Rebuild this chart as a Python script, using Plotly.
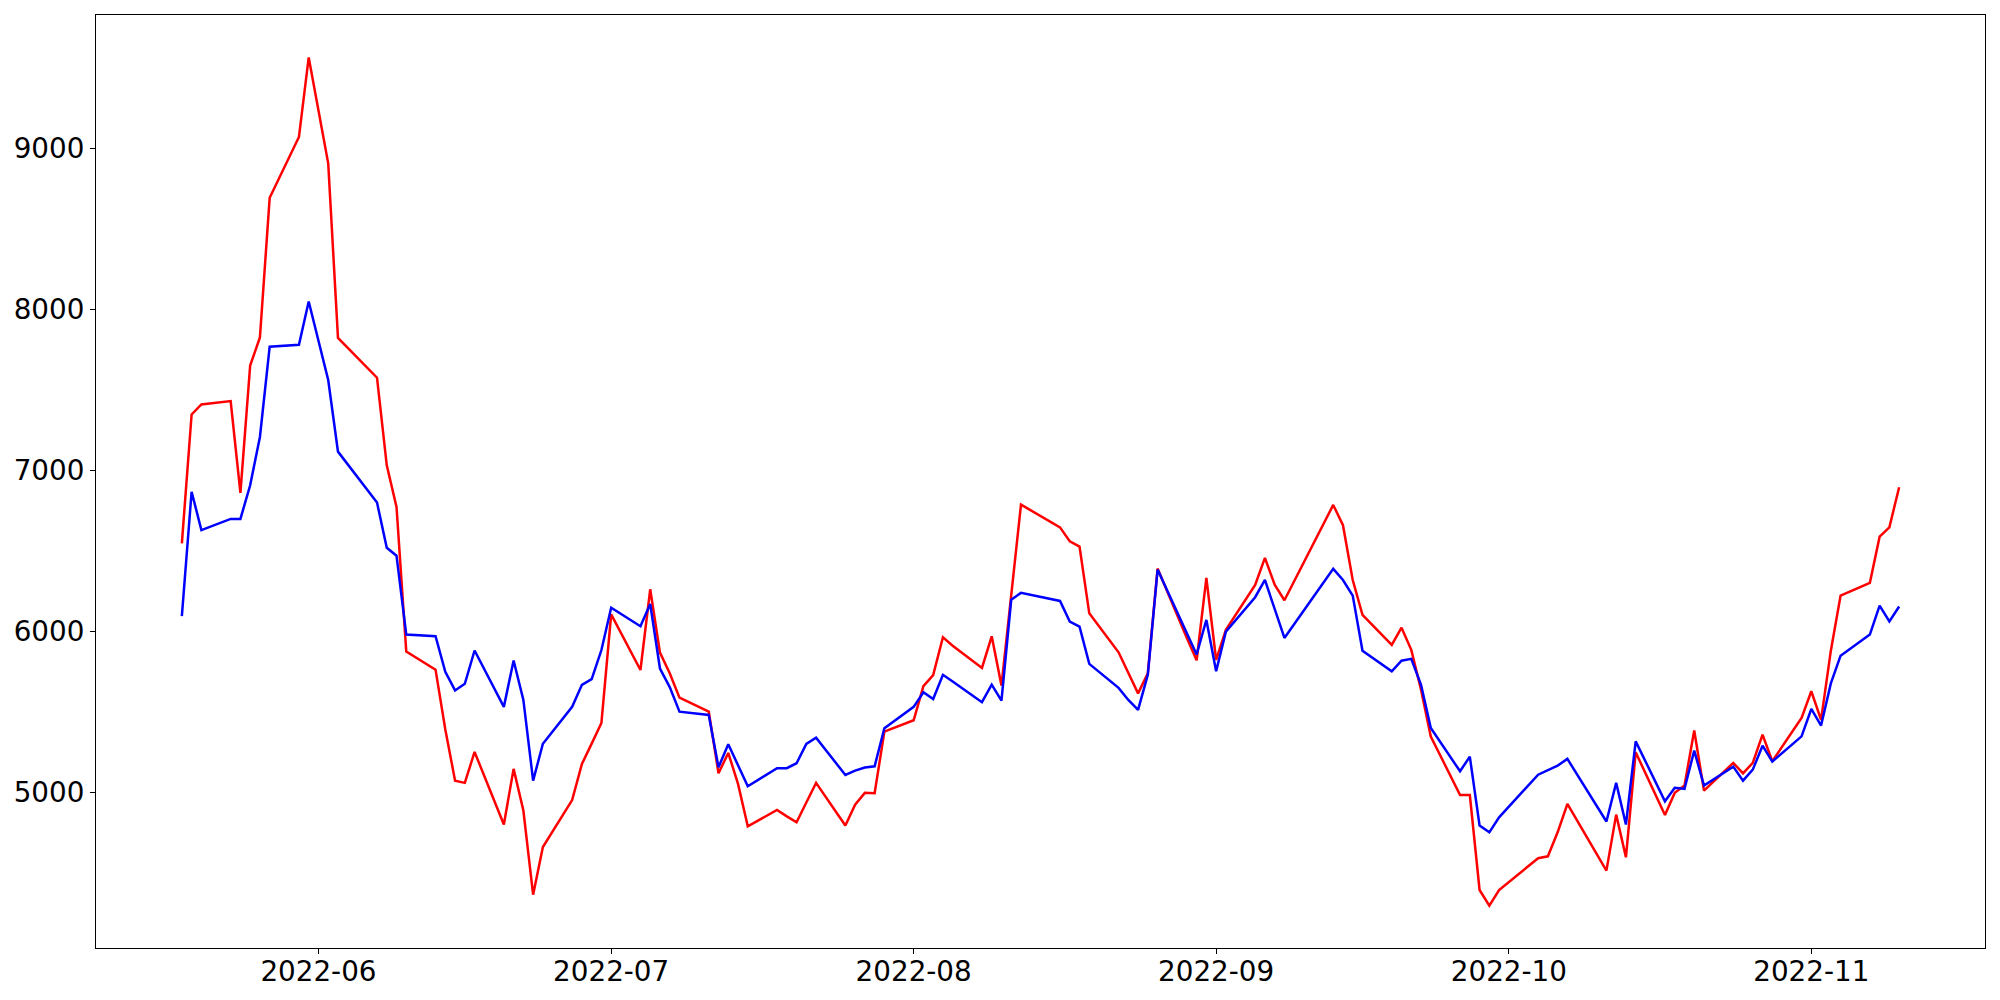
import pandas as pd
import plotly.graph_objects as go

dates = [
    "2022-05-18", "2022-05-19", "2022-05-20", "2022-05-23", "2022-05-24", "2022-05-25", "2022-05-26", "2022-05-27",
    "2022-05-30", "2022-05-31", "2022-06-02", "2022-06-03", "2022-06-07", "2022-06-08", "2022-06-09", "2022-06-10",
    "2022-06-13", "2022-06-14", "2022-06-15", "2022-06-16", "2022-06-17", "2022-06-20", "2022-06-21", "2022-06-22",
    "2022-06-23", "2022-06-24", "2022-06-27", "2022-06-28", "2022-06-29", "2022-06-30", "2022-07-01", "2022-07-04",
    "2022-07-05", "2022-07-06", "2022-07-07", "2022-07-08", "2022-07-11", "2022-07-12", "2022-07-13", "2022-07-14",
    "2022-07-15", "2022-07-18", "2022-07-19", "2022-07-20", "2022-07-21", "2022-07-22", "2022-07-25", "2022-07-26",
    "2022-07-27", "2022-07-28", "2022-07-29", "2022-08-01", "2022-08-02", "2022-08-03", "2022-08-04", "2022-08-05",
    "2022-08-08", "2022-08-09", "2022-08-10", "2022-08-11", "2022-08-12", "2022-08-16", "2022-08-17", "2022-08-18",
    "2022-08-19", "2022-08-22", "2022-08-23", "2022-08-24", "2022-08-25", "2022-08-26", "2022-08-29", "2022-08-30",
    "2022-08-31", "2022-09-01", "2022-09-02", "2022-09-05", "2022-09-06", "2022-09-07", "2022-09-08", "2022-09-13",
    "2022-09-14", "2022-09-15", "2022-09-16", "2022-09-19", "2022-09-20", "2022-09-21", "2022-09-22", "2022-09-23",
    "2022-09-26", "2022-09-27", "2022-09-28", "2022-09-29", "2022-09-30", "2022-10-04", "2022-10-05", "2022-10-06",
    "2022-10-07", "2022-10-11", "2022-10-12", "2022-10-13", "2022-10-14", "2022-10-17", "2022-10-18", "2022-10-19",
    "2022-10-20", "2022-10-21", "2022-10-24", "2022-10-25", "2022-10-26", "2022-10-27", "2022-10-28", "2022-10-31",
    "2022-11-01", "2022-11-02", "2022-11-03", "2022-11-04", "2022-11-07", "2022-11-08", "2022-11-09", "2022-11-10",
]

red_values = [
    6548, 7349, 7411, 7432, 6862, 7653, 7827, 8694,
    9072, 9566, 8908, 7824, 7577, 7033, 6775, 5877,
    5764, 5393, 5075, 5061, 5253, 4803, 5148, 4889,
    4367, 4663, 4954, 5178, 5305, 5433, 6107, 5762,
    6263, 5870, 5742, 5590, 5504, 5121, 5247, 5055,
    4791, 4893, 4853, 4816, 4939, 5061, 4796, 4926,
    4999, 4997, 5379, 5450, 5662, 5730, 5965, 5913,
    5775, 5971, 5665, 6228, 6789, 6648, 6561, 6528,
    6114, 5872, 5744, 5617, 5742, 6392, 5960, 5822,
    6334, 5825, 6011, 6290, 6458, 6292, 6195, 6787,
    6661, 6321, 6104, 5918, 6025, 5887, 5640, 5349,
    4986, 4986, 4396, 4299, 4396, 4593, 4605, 4754,
    4930, 4516, 4864, 4599, 5251, 4862, 4999, 5044,
    5386, 5013, 5185, 5120, 5185, 5361, 5195, 5464,
    5630, 5452, 5882, 6224, 6303, 6590, 6648, 6897,
]

blue_values = [
    6097, 6869, 6631, 6700, 6700, 6909, 7209, 7770,
    7781, 8050, 7563, 7118, 6802, 6521, 6472, 5982,
    5972, 5751, 5635, 5676, 5883, 5533, 5821, 5576,
    5075, 5304, 5533, 5670, 5705, 5886, 6149, 6034,
    6172, 5771, 5656, 5503, 5483, 5158, 5301, 5170,
    5040, 5152, 5152, 5183, 5303, 5342, 5110, 5137,
    5156, 5164, 5400, 5533, 5624, 5582, 5732, 5690,
    5562, 5671, 5572, 6199, 6241, 6191, 6063, 6031,
    5800, 5651, 5576, 5514, 5733, 6386, 5988, 5858,
    6073, 5754, 6000, 6214, 6321, 6141, 5961, 6390,
    6321, 6224, 5882, 5754, 5820, 5831, 5670, 5402,
    5133, 5224, 4796, 4754, 4847, 5112, 5142, 5168,
    5210, 4821, 5061, 4802, 5319, 4947, 5030, 5024,
    5261, 5044, 5162, 5075, 5143, 5292, 5193, 5350,
    5520, 5417, 5679, 5851, 5982, 6162, 6063, 6156,
]

x_tick_dates = ["2022-06-01", "2022-07-01", "2022-08-01", "2022-09-01", "2022-10-01", "2022-11-01"]
x_tick_labels = ["2022-06", "2022-07", "2022-08", "2022-09", "2022-10", "2022-11"]
y_tick_values = [5000, 6000, 7000, 8000, 9000]

x = pd.to_datetime(dates)

fig = go.Figure()
fig.add_trace(go.Scatter(x=x, y=red_values, mode="lines",
                         line=dict(color="#ff0000", width=2.5), showlegend=False))
fig.add_trace(go.Scatter(x=x, y=blue_values, mode="lines",
                         line=dict(color="#0000ff", width=2.5), showlegend=False))

# matplotlib-like 5% margins
span = x.max() - x.min()
x_range = [x.min() - 0.05 * span, x.max() + 0.05 * span]
all_y = red_values + blue_values
y_lo, y_hi = min(all_y), max(all_y)
y_span = y_hi - y_lo
y_range = [y_lo - 0.05 * y_span, y_hi + 0.05 * y_span]

axis_common = dict(
    showgrid=False, zeroline=False, automargin=False,
    showline=True, linecolor="black", linewidth=1.1, mirror=True,
    ticks="outside", ticklen=5, tickwidth=1.1, tickcolor="black",
    tickfont=dict(family="DejaVu Sans", size=27.8, color="black"),
)

fig.update_xaxes(range=x_range, tickvals=pd.to_datetime(x_tick_dates), ticktext=x_tick_labels,
                 ticklabelstandoff=-6, **axis_common)
fig.update_yaxes(range=y_range, tickvals=y_tick_values, ticktext=[str(v) for v in y_tick_values],
                 **axis_common)

# the page body adds an 8px margin, so the figure is sized to fit the window
fig.update_layout(
    width=1984, height=984,
    margin=dict(l=88, r=7, t=7, b=44, pad=0),
    plot_bgcolor="white", paper_bgcolor="white",
    font=dict(family="DejaVu Sans", color="black"),
    showlegend=False,
)

fig.write_html("out.html")
